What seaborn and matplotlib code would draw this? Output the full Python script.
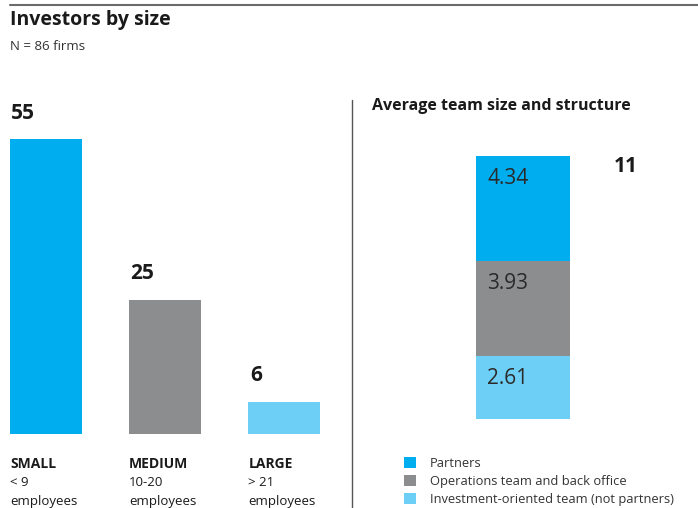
import matplotlib.pyplot as plt
import seaborn as sns
import pandas as pd
import numpy as np
from matplotlib.lines import Line2D

# data
sizes = ['SMALL', 'MEDIUM', 'LARGE']
size_ranges = ['< 9', '10-20', '> 21']
firm_counts = [55, 25, 6]
roles = ['Partners', 'Operations team and back office', 'Investment-oriented team (not partners)']
team_size = [4.34, 3.93, 2.61]
team_total = 11

blue = '#00aeef'
grey = '#8c8d8f'
light_blue = '#6dcff6'
text_col = '#1a1a1a'

sns.set_style('white')
plt.rcParams['font.family'] = ['Open Sans', 'DejaVu Sans']

fig = plt.figure(figsize=(6.98, 5.08), dpi=100)

# header
fig.add_artist(Line2D([10/698, 1], [1 - 5/508, 1 - 5/508], color='#6b6b6b', linewidth=1.5))
fig.text(10/698, 1 - 20/508, 'Investors by size', fontsize=14, fontweight='bold', color=text_col, va='center')
fig.text(10/698, 1 - 46/508, 'N = 86 firms', fontsize=9.5, color='#333333', va='center')

#----------------------------------------------------------------------------
# Left: investors by size
#----------------------------------------------------------------------------
df_size = pd.DataFrame({'size': sizes, 'count': firm_counts, 'range': size_ranges})
ax1 = fig.add_axes([10/698, 74/508, 310/698, 295/508])
sns.barplot(data=df_size, x='size', y='count', hue='size', palette=[blue, grey, light_blue],
            width=0.6, saturation=1, legend=False, linewidth=0, ax=ax1)
ax1.set_xlim(-0.3, 2.3)
ax1.set_ylim(0, max(firm_counts))
ax1.axis('off')

for i, row in df_size.iterrows():
    ax1.annotate(str(row['count']), xy=(i - 0.3, row['count']), xytext=(1, 26 * 0.72),
                 textcoords='offset points', ha='left', va='center',
                 fontsize=15, fontweight='bold', color=text_col, annotation_clip=False)
    ax1.annotate(row['size'], xy=(i - 0.3, 0), xycoords=('data', 'axes fraction'),
                 xytext=(0, -30 * 0.72), textcoords='offset points', ha='left', va='center',
                 fontsize=10, fontweight='bold', color=text_col, annotation_clip=False)
    ax1.annotate(row['range'], xy=(i - 0.3, 0), xycoords=('data', 'axes fraction'),
                 xytext=(0, -49 * 0.72), textcoords='offset points', ha='left', va='center',
                 fontsize=9.5, color=text_col, annotation_clip=False)
    ax1.annotate('employees', xy=(i - 0.3, 0), xycoords=('data', 'axes fraction'),
                 xytext=(0, -68 * 0.72), textcoords='offset points', ha='left', va='center',
                 fontsize=9.5, color=text_col, annotation_clip=False)

# divider
fig.add_artist(Line2D([352/698, 352/698], [0, 1 - 100/508], color='#555555', linewidth=1))

#----------------------------------------------------------------------------
# Right: average team size and structure (stacked)
#----------------------------------------------------------------------------
fig.text(372/698, 1 - 106/508, 'Average team size and structure', fontsize=11.5,
         fontweight='bold', color=text_col, va='center')

stack_tops = np.cumsum(team_size[::-1])[::-1]  # tops of each segment
ax2 = fig.add_axes([476/698, 89/508, 94/698, 263/508])
for role, top, col in zip(roles, stack_tops, [blue, grey, light_blue]):
    sns.barplot(x=['team'], y=[top], color=col, width=1, saturation=1, label=role,
                linewidth=0, ax=ax2)
ax2.set_xlim(-0.5, 0.5)
ax2.set_ylim(0, stack_tops[0])
ax2.axis('off')
handles, labels = ax2.get_legend_handles_labels()
if ax2.get_legend() is not None:
    ax2.get_legend().remove()

for val, top in zip(team_size, stack_tops):
    ax2.annotate(f'{val:.2f}', xy=(-0.5, top), xytext=(11 * 0.72, -23 * 0.72),
                 textcoords='offset points', ha='left', va='center',
                 fontsize=15, color='#2a2a2a')

ax2.annotate(str(team_total), xy=(0.5, stack_tops[0]), xytext=(44 * 0.72, -11 * 0.72),
             textcoords='offset points', ha='left', va='center',
             fontsize=15, fontweight='bold', color=text_col, annotation_clip=False)

fig.legend(handles, labels, loc='upper left', bbox_to_anchor=(404/698, 1 - 457/508),
           frameon=False, fontsize=9.3, handlelength=0.9, handleheight=0.9,
           handletextpad=1.1, labelspacing=0.38, borderaxespad=0, borderpad=0,
           labelcolor='#333333')

fig.savefig('out.png', dpi=100)
